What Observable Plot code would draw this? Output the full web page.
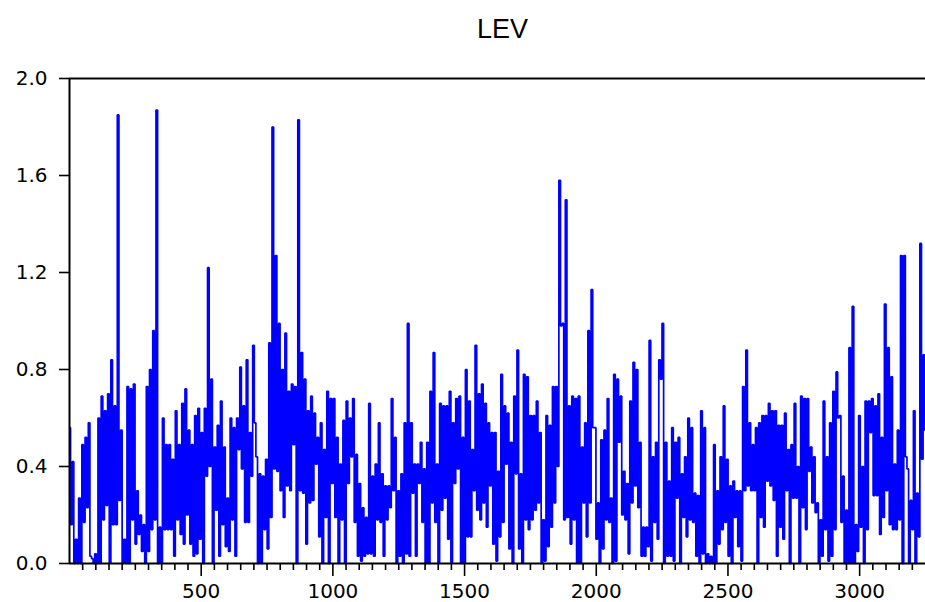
<!DOCTYPE html>
<html>
<head>
<meta charset="utf-8">
<script src="https://cdn.jsdelivr.net/npm/d3@7"></script>
<script src="https://cdn.jsdelivr.net/npm/@observablehq/plot@0.6"></script>
<style>
  html, body { margin: 0; padding: 0; background: #fff; }
</style>
</head>
<body>
<div id="chart"></div>
<script>
// LEV by observation number, stored as alternating high / low readings
// along the sample, in five consecutive stretches.
const levSeg1 = [
  0.56,0.16, 0.42,0.00, 0.10,0.00, 0.27,0.00, 0.49,0.17, 0.52,0.23, 0.58,0.03, 0.02,0.00,
  0.04,0.00, 0.60,0.00, 0.69,0.18, 0.63,0.24, 0.70,0.00, 0.84,0.16, 0.65,0.16, 1.85,0.26,
  0.55,0.00, 0.10,0.00, 0.73,0.00, 0.72,0.18, 0.74,0.08, 0.30,0.12, 0.20,0.05, 0.16,0.00,
  0.73,0.05, 0.80,0.14, 0.96,0.18, 1.87,0.00, 0.15,0.00, 0.60,0.14, 0.49,0.14, 0.49,0.14,
  0.43,0.03, 0.63,0.18, 0.49,0.12, 0.66,0.08, 0.72,0.20, 0.55,0.08, 0.49,0.03, 0.61,0.04,
  0.64,0.10, 0.54,0.00, 0.64,0.36, 1.22,0.40, 0.76,0.00, 0.48,0.22, 0.57,0.03, 0.67,0.16,
  0.48,0.07, 0.27,0.05, 0.60,0.18, 0.56,0.03
];
const levSeg2 = [
  0.60,0.47, 0.81,0.39, 0.65,0.17, 0.84,0.17, 0.54,0.36, 0.90,0.58, 0.44,0.00, 0.37,0.00,
  0.36,0.14, 0.43,0.06, 0.91,0.19, 1.80,0.39, 1.27,0.38, 0.99,0.30, 0.80,0.19, 0.95,0.32,
  0.71,0.30, 0.74,0.49, 0.73,0.00, 1.83,0.30, 0.87,0.29, 0.76,0.08, 0.63,0.25, 0.69,0.26,
  0.62,0.41, 0.52,0.11, 0.58,0.00, 0.47,0.19, 0.71,0.00, 0.68,0.33, 0.68,0.19, 0.52,0.00,
  0.41,0.18, 0.59,0.00, 0.67,0.33, 0.60,0.44, 0.68,0.17, 0.45,0.03, 0.33,0.01, 0.23,0.03,
  0.19,0.04, 0.66,0.04, 0.36,0.03, 0.41,0.18, 0.58,0.17, 0.37,0.03, 0.32,0.18, 0.32,0.23,
  0.68,0.30, 0.52,0.00, 0.30,0.03, 0.37,0.00, 0.58,0.04, 0.99,0.03
];
const levSeg3 = [
  0.58,0.29, 0.41,0.03, 0.41,0.33, 0.50,0.17, 0.39,0.00, 0.50,0.00, 0.71,0.25, 0.87,0.17,
  0.41,0.00, 0.66,0.22, 0.65,0.27, 0.65,0.10, 0.71,0.00, 0.58,0.33, 0.68,0.39, 0.69,0.00,
  0.52,0.00, 0.80,0.11, 0.67,0.11, 0.47,0.30, 0.90,0.22, 0.70,0.18, 0.74,0.25, 0.66,0.15,
  0.58,0.32, 0.54,0.08, 0.54,0.01, 0.38,0.11, 0.78,0.17, 0.65,0.41, 0.62,0.06, 0.50,0.00,
  0.69,0.37, 0.88,0.06, 0.37,0.00, 0.78,0.18, 0.77,0.14, 0.61,0.18, 0.61,0.22, 0.67,0.25,
  0.54,0.00, 0.18,0.01, 0.61,0.07, 0.57,0.15, 0.73,0.25, 0.73,0.40, 1.58,0.98, 0.99,0.18,
  1.50,0.19, 0.65,0.08, 0.69,0.18, 0.68,0.00, 0.69,0.00, 0.48,0.25
];
const levSeg4 = [
  0.58,0.11, 0.96,0.25, 1.13,0.56, 0.56,0.10, 0.25,0.00, 0.51,0.06, 0.55,0.18, 0.68,0.17,
  0.27,0.00, 0.78,0.01, 0.76,0.50, 0.69,0.20, 0.38,0.18, 0.33,0.04, 0.67,0.25, 0.83,0.32,
  0.80,0.23, 0.50,0.03, 0.15,0.03, 0.15,0.07, 0.92,0.01, 0.44,0.17, 0.50,0.10, 0.84,0.76,
  0.99,0.00, 0.50,0.03, 0.34,0.03, 0.56,0.01, 0.50,0.27, 0.52,0.00, 0.37,0.19, 0.44,0.11,
  0.60,0.18, 0.56,0.17, 0.29,0.03, 0.28,0.00, 0.63,0.04, 0.56,0.00, 0.04,0.00, 0.03,0.00,
  0.49,0.00, 0.30,0.08, 0.44,0.14, 0.65,0.17, 0.43,0.03, 0.32,0.00, 0.34,0.19, 0.30,0.07,
  0.30,0.01, 0.73,0.30, 0.88,0.32, 0.58,0.30
];
const levSeg5 = [
  0.49,0.30, 0.56,0.00, 0.58,0.19, 0.61,0.15, 0.61,0.34, 0.66,0.32, 0.63,0.26, 0.63,0.03,
  0.57,0.15, 0.57,0.10, 0.62,0.30, 0.47,0.00, 0.49,0.27, 0.66,0.27, 0.40,0.00, 0.69,0.23,
  0.68,0.14, 0.68,0.38, 0.48,0.25, 0.44,0.21, 0.25,0.00, 0.18,0.03, 0.67,0.14, 0.44,0.01,
  0.58,0.03, 0.71,0.14, 0.79,0.60, 0.61,0.17, 0.36,0.00, 0.22,0.00, 0.89,0.00, 1.06,0.00,
  0.16,0.05, 0.61,0.15, 0.40,0.00, 0.67,0.14, 0.67,0.54, 0.68,0.28, 0.65,0.28, 0.70,0.12,
  0.52,0.19, 1.07,0.30, 0.89,0.16, 0.77,0.14, 0.41,0.14, 0.55,0.18, 1.27,0.00, 1.27,0.44,
  0.39,0.00, 0.26,0.14, 0.63,0.00, 0.29,0.11, 1.32,0.43, 0.86,0.55
];

const title = "LEV";
const firstObs = 1;
const lastObs = 3250;
const yTicks = [0, 0.4, 0.8, 1.2, 1.6, 2.0];
const xTicks = [500, 1000, 1500, 2000, 2500, 3000];
const xMinorTicks = d3.range(50, lastObs, 50).filter(t => t % 500 !== 0);

const lev = [].concat(levSeg1, levSeg2, levSeg3, levSeg4, levSeg5);
const step = (lastObs - firstObs) / (lev.length - 1);
const series = lev.map((v, i) => ({obs: firstObs + i * step, lev: v}));

const chart = Plot.plot({
  width: 925,
  height: 602,
  marginLeft: 69,
  marginRight: 0,
  marginTop: 78,
  marginBottom: 39,
  x: {domain: [0, lastObs]},
  y: {domain: [0, 2]},
  style: {fontFamily: "'DejaVu Sans', sans-serif", fontSize: "20px", background: "#fff", color: "#000"},
  marks: [
    Plot.axisY({ticks: yTicks, tickFormat: d3.format(".1f"), tickSize: 10, tickPadding: 12, strokeWidth: 1.6, label: null}),
    Plot.axisX({ticks: xMinorTicks, tickFormat: () => "", tickSize: 7, strokeWidth: 1.6, label: null}),
    Plot.axisX({ticks: xTicks, tickFormat: d => String(d), tickSize: 13, tickPadding: 7, strokeWidth: 1.6, label: null}),
    // consecutive observations joined with vertical jumps
    Plot.lineY(series, {x: "obs", y: "lev", curve: "step", stroke: "#0000ff", strokeWidth: 1.7, strokeLinejoin: "miter"}),
    Plot.ruleX([0], {stroke: "#000", strokeWidth: 2}),
    Plot.ruleY([0, 2], {stroke: "#000", strokeWidth: 2}),
    Plot.text([title], {frameAnchor: "top", lineAnchor: "middle", dx: 5, dy: -49, fontSize: 27, fontFamily: "'Liberation Sans', Arial, sans-serif", fill: "#000"})
  ]
});

document.getElementById("chart").append(chart);
</script>
</body>
</html>
